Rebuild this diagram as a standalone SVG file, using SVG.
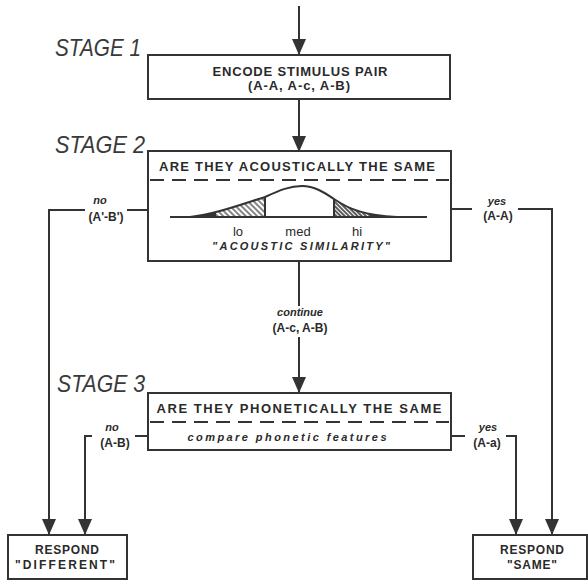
<svg xmlns="http://www.w3.org/2000/svg" width="588" height="581" viewBox="0 0 588 581">
<style>
.box{fill:#fff;stroke:#333;stroke-width:2}
.ln{fill:none;stroke:#333;stroke-width:2}
.dash{fill:none;stroke:#333;stroke-width:2;stroke-dasharray:14 8}
.stage{font-family:"Liberation Sans",Arial,sans-serif;font-style:italic;font-size:24px;fill:#3a3a3a}
.t{font-family:"Liberation Sans",Arial,sans-serif;font-weight:bold;font-size:13px;fill:#2a2a2a;text-anchor:middle}
.ti{font-family:"Liberation Sans",Arial,sans-serif;font-weight:bold;font-style:italic;font-size:11px;fill:#2a2a2a;text-anchor:middle}
.sm{font-family:"Liberation Sans",Arial,sans-serif;font-weight:bold;font-size:12px;fill:#2a2a2a;text-anchor:middle}
.lab{font-family:"Liberation Sans",Arial,sans-serif;font-size:13px;fill:#2a2a2a;text-anchor:middle}
</style>
<defs>
<marker id="arr" markerUnits="userSpaceOnUse" markerWidth="16" markerHeight="14" refX="16" refY="7" orient="auto">
<path d="M0,0 L16,7 L0,14 z" fill="#333"/>
</marker>
<pattern id="hatchL" patternUnits="userSpaceOnUse" width="4" height="4" patternTransform="rotate(-45)">
<line x1="1" y1="0" x2="1" y2="4" stroke="#444" stroke-width="1.3"/>
</pattern>
<pattern id="hatchR" patternUnits="userSpaceOnUse" width="3" height="3" patternTransform="rotate(-45)">
<line x1="1" y1="0" x2="1" y2="3" stroke="#333" stroke-width="1.6"/>
</pattern>
<clipPath id="under">
<path d="M190 217 C212 215,240 205,265 197 C280 190,290 186,302 186 C315 186,325 193,334 199 C350 210,365 215,397 217 Z"/>
</clipPath>
</defs>

<g id="connectors">
<line class="ln" x1="299" y1="6" x2="299" y2="55" marker-end="url(#arr)"/>
<line class="ln" x1="299" y1="99" x2="299" y2="152" marker-end="url(#arr)"/>
<line class="ln" x1="299" y1="261" x2="299" y2="306"/>
<line class="ln" x1="299" y1="337" x2="299" y2="393" marker-end="url(#arr)"/>
<text class="ti" x="300" y="316">continue</text>
<text class="sm" x="300" y="332">(A-c, A-B)</text>

<path class="ln" d="M148 210 H127"/>
<path class="ln" d="M85 210 H49 V535" marker-end="url(#arr)"/>
<text class="ti" x="100" y="204" font-size="9">no</text>
<text class="sm" x="106" y="221">(A'-B')</text>

<path class="ln" d="M451 209 H472"/>
<path class="ln" d="M518 209 H552 V535" marker-end="url(#arr)"/>
<text class="ti" x="497" y="205" font-size="10">yes</text>
<text class="sm" x="498" y="220">(A-A)</text>

<path class="ln" d="M148 436 H135"/>
<path class="ln" d="M92 436 H85 V535" marker-end="url(#arr)"/>
<text class="ti" x="112" y="431">no</text>
<text class="sm" x="115" y="447">(A-B)</text>

<path class="ln" d="M451 436 H465"/>
<path class="ln" d="M506 436 H516 V535" marker-end="url(#arr)"/>
<text class="ti" x="488" y="431">yes</text>
<text class="sm" x="487" y="447">(A-a)</text>
</g>

<g id="stage1">
<text class="stage" x="55" y="56" textLength="86" lengthAdjust="spacingAndGlyphs">STAGE 1</text>
<rect class="box" x="148" y="55" width="302" height="44"/>
<text class="t" x="300" y="76" textLength="175" lengthAdjust="spacing">ENCODE STIMULUS PAIR</text>
<text class="t" x="299" y="90" font-size="12" textLength="102" lengthAdjust="spacing">(A-A, A-c, A-B)</text>
</g>

<g id="stage2">
<text class="stage" x="55" y="153" textLength="90" lengthAdjust="spacingAndGlyphs">STAGE 2</text>
<rect class="box" x="148" y="151" width="303" height="110"/>
<text class="t" x="297" y="171" font-size="14" textLength="276" lengthAdjust="spacing">ARE THEY ACOUSTICALLY THE SAME</text>
<line class="dash" x1="150" y1="180" x2="449" y2="180"/>
<g clip-path="url(#under)">
<rect x="190" y="180" width="75" height="40" fill="url(#hatchL)"/>
<rect x="334" y="180" width="66" height="40" fill="url(#hatchR)"/>
<rect x="188" y="212" width="28" height="6" fill="#333"/>
<rect x="370" y="212" width="30" height="6" fill="#333"/>
</g>
<path class="ln" d="M190 217 C212 215,240 205,265 197 C280 190,290 186,302 186 C315 186,325 193,334 199 C350 210,365 215,397 217"/>
<line class="ln" x1="265" y1="197" x2="265" y2="217"/>
<line class="ln" x1="334" y1="199" x2="334" y2="217"/>
<line class="ln" x1="170" y1="217" x2="427" y2="217"/>
<text class="lab" x="238" y="236">lo</text>
<text class="lab" x="298" y="236">med</text>
<text class="lab" x="357" y="236">hi</text>
<text class="ti" x="301" y="250" font-size="13" textLength="178" lengthAdjust="spacing">"ACOUSTIC SIMILARITY"</text>
</g>

<g id="stage3">
<text class="stage" x="57" y="392" textLength="88" lengthAdjust="spacingAndGlyphs">STAGE 3</text>
<rect class="box" x="148" y="393" width="303" height="57"/>
<text class="t" x="299" y="413" font-size="14" textLength="285" lengthAdjust="spacing">ARE THEY PHONETICALLY THE SAME</text>
<line class="dash" x1="150" y1="422" x2="449" y2="422"/>
<text class="ti" x="287" y="441" font-size="12" textLength="199" lengthAdjust="spacing">compare phonetic features</text>
</g>

<g id="respond-different">
<rect class="box" x="8" y="535" width="119" height="44"/>
<text class="sm" x="67" y="554" textLength="64" lengthAdjust="spacing">RESPOND</text>
<text class="sm" x="65" y="569" textLength="100" lengthAdjust="spacing">"DIFFERENT"</text>
</g>

<g id="respond-same">
<rect class="box" x="473" y="535" width="114" height="44"/>
<text class="sm" x="532" y="554" textLength="64" lengthAdjust="spacing">RESPOND</text>
<text class="sm" x="532" y="569" textLength="50" lengthAdjust="spacing">"SAME"</text>
</g>
</svg>
